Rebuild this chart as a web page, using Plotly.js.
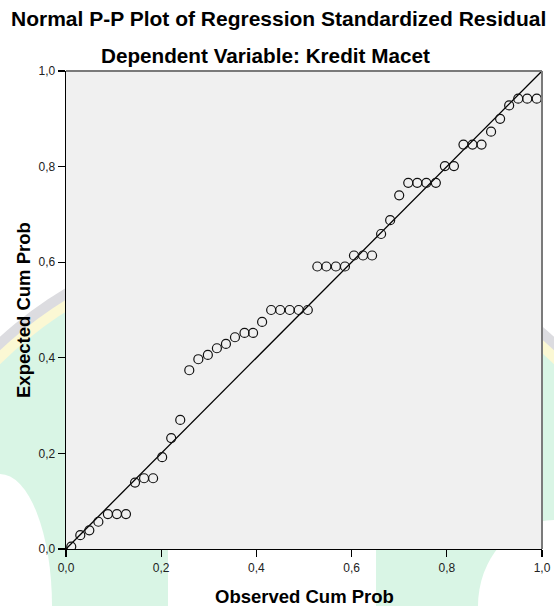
<!DOCTYPE html>
<html>
<head>
<meta charset="utf-8">
<script src="https://cdn.plot.ly/plotly-3.0.1.min.js"></script>
<style>
html,body{margin:0;padding:0;background:#fff;}
#chart{width:554px;height:606px;}
</style>
</head>
<body>
<div id="chart"></div>
<script>
// Observed cumulative probability (x) and expected cumulative probability (y)
var observedCumProb = [0.011,0.030,0.049,0.068,0.088,0.107,0.126,0.145,0.164,0.183,
  0.202,0.221,0.240,0.259,0.278,0.298,0.317,0.336,0.355,0.375,
  0.393,0.412,0.431,0.450,0.470,0.489,0.508,0.528,0.547,0.567,
  0.586,0.605,0.624,0.643,0.662,0.681,0.700,0.719,0.738,0.757,
  0.777,0.796,0.815,0.835,0.854,0.873,0.893,0.912,0.931,0.950,
  0.969,0.989];
var expectedCumProb = [0.005,0.029,0.039,0.057,0.073,0.073,0.073,0.139,0.148,0.148,
  0.192,0.232,0.270,0.374,0.397,0.406,0.420,0.429,0.443,0.452,
  0.452,0.475,0.500,0.500,0.500,0.500,0.500,0.591,0.591,0.591,
  0.591,0.614,0.614,0.614,0.659,0.688,0.740,0.766,0.766,0.766,
  0.766,0.801,0.801,0.846,0.846,0.846,0.873,0.900,0.928,0.942,
  0.942,0.942];
var refLineX = [0, 1];
var refLineY = [0, 1];
var tickVals = [0, 0.2, 0.4, 0.6, 0.8, 1.0];
var tickLabels = ['0,0', '0,2', '0,4', '0,6', '0,8', '1,0'];

var font = 'Arial, "Liberation Sans", sans-serif';

// plot area in pixels (from margins) for converting background decoration positions
var W = 554, H = 606, ML = 66, MR = 12, MT = 71, MB = 57;
var PW = W - ML - MR, PH = H - MT - MB;
function px(x) { return (x - ML) / PW; }
function py(y) { return (H - MB - y) / PH; }
function circ(cx, cy, r, fill) {
  return {type: 'circle', xref: 'paper', yref: 'paper', layer: 'below',
    x0: px(cx - r), x1: px(cx + r), y0: py(cy + r), y1: py(cy - r),
    fillcolor: fill, line: {width: 0}};
}
function ell(cx, cy, rx, ry, fill) {
  return {type: 'circle', xref: 'paper', yref: 'paper', layer: 'below',
    x0: px(cx - rx), x1: px(cx + rx), y0: py(cy + ry), y1: py(cy - ry),
    fillcolor: fill, line: {width: 0}};
}

var traces = [
  {
    x: refLineX, y: refLineY, type: 'scatter', mode: 'lines',
    line: {color: '#000000', width: 1.3}, hoverinfo: 'skip', showlegend: false
  },
  {
    x: observedCumProb, y: expectedCumProb, type: 'scatter', mode: 'markers',
    marker: {symbol: 'circle-open', size: 9, color: '#111111', line: {width: 1.2, color: '#111111'}},
    showlegend: false
  }
];

var shapes = [
  // faint background watermark (outside the plot area)
  circ(277, 643, 413, '#dcdce0'),
  circ(277, 643, 403, '#fbf8d4'),
  circ(277, 643, 393, '#d9f5e5'),
  ell(0, 606, 52, 132, '#ffffff'),
  ell(554, 606, 76, 86, '#ffffff'),
  {type: 'rect', xref: 'paper', yref: 'paper', layer: 'below',
   x0: px(168), x1: px(376), y0: py(606), y1: py(540), fillcolor: '#ffffff', line: {width: 0}},
  // plot area background
  {type: 'rect', xref: 'paper', yref: 'paper', layer: 'below',
   x0: 0, x1: 1, y0: 0, y1: 1, fillcolor: '#f0f0f0', line: {width: 0}},
  // top and right frame
  {type: 'line', xref: 'paper', yref: 'paper', x0: 0, x1: 1, y0: 1, y1: 1, line: {color: '#7a7a7a', width: 2}},
  {type: 'line', xref: 'paper', yref: 'paper', x0: 1, x1: 1, y0: 0, y1: 1, line: {color: '#7a7a7a', width: 2}}
];

var layout = {
  width: W, height: H,
  margin: {l: ML, r: MR, t: MT, b: MB},
  paper_bgcolor: '#ffffff',
  plot_bgcolor: 'rgba(0,0,0,0)',
  font: {family: font, color: '#000'},
  xaxis: {
    range: [0, 1], fixedrange: true,
    tickvals: tickVals, ticktext: tickLabels,
    ticks: 'outside', ticklen: 7, tickwidth: 1.3, tickcolor: '#000',
    showline: true, linecolor: '#000', linewidth: 1.3,
    showgrid: false, zeroline: false,
    tickfont: {family: font, size: 12, color: '#222'}
  },
  yaxis: {
    range: [0, 1], fixedrange: true,
    tickvals: tickVals, ticktext: tickLabels,
    ticks: 'outside', ticklen: 7, tickwidth: 1.3, tickcolor: '#000',
    showline: true, linecolor: '#000', linewidth: 1.3,
    showgrid: false, zeroline: false,
    tickfont: {family: font, size: 12, color: '#222'}
  },
  shapes: shapes,
  annotations: [
    {text: '<b>Normal P-P Plot of Regression Standardized Residual</b>', xref: 'paper', yref: 'paper',
     x: px(278.5), y: py(18.3), xanchor: 'center', yanchor: 'middle', showarrow: false,
     font: {family: font, size: 21, color: '#000'}},
    {text: '<b>Dependent Variable: Kredit Macet</b>', xref: 'paper', yref: 'paper',
     x: px(265.5), y: py(55.5), xanchor: 'center', yanchor: 'middle', showarrow: false,
     font: {family: font, size: 20.7, color: '#000'}},
    {text: '<b>Observed Cum Prob</b>', xref: 'paper', yref: 'paper',
     x: px(304.5), y: py(596), xanchor: 'center', yanchor: 'middle', showarrow: false,
     font: {family: font, size: 18.5, color: '#000'}},
    {text: '<b>Expected Cum Prob</b>', xref: 'paper', yref: 'paper', textangle: -90,
     x: px(23), y: py(310), xanchor: 'center', yanchor: 'middle', showarrow: false,
     font: {family: font, size: 18.5, color: '#000'}}
  ]
};

Plotly.newPlot('chart', traces, layout, {displayModeBar: false, staticPlot: true});
</script>
</body>
</html>
